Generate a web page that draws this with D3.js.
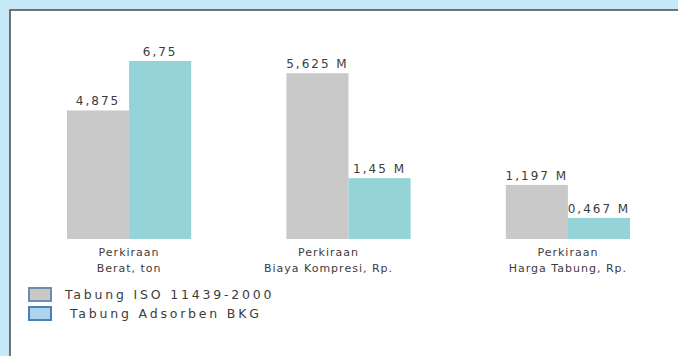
<!DOCTYPE html>
<html lang="id">
  <head>
    <meta charset="UTF-8" />
    <title>Perbandingan Tabung</title>
    <script src="https://d3js.org/d3.v7.min.js"></script>
    <style>
      body {
        margin: 0;
        background: #c6e9f8;
      }
      svg {
        display: block;
        font-family: "DejaVu Sans", sans-serif;
      }
      .value-label {
        font-size: 12px;
        letter-spacing: 2px;
        fill: #3c3c3c;
        text-anchor: middle;
      }
      .cat-label {
        font-size: 11px;
        letter-spacing: 1px;
        fill: #3c3c3c;
        text-anchor: middle;
      }
      .legend-text {
        font-size: 12.5px;
        letter-spacing: 2.8px;
        fill: #3c3c3c;
      }
    </style>
  </head>
  <body>
    <svg width="678" height="356"></svg>
    <script>
      // categories (two-line labels)
      const categories = [
        ["Perkiraan", "Berat, ton"],
        ["Perkiraan", "Biaya Kompresi, Rp."],
        ["Perkiraan", "Harga Tabung, Rp."]
      ];
      const seriesNames = ["Tabung ISO 11439-2000", "Tabung Adsorben BKG"];
      const isoValues = [4.875, 5.625, 1.197];
      const bkgValues = [6.75, 1.45, 0.467];
      const isoLabels = ["4,875", "5,625 M", "1,197 M"];
      const bkgLabels = ["6,75", "1,45 M", "0,467 M"];
      // each category is drawn on its own (hidden) value axis
      const groupDomains = [[0, 6.75], [-0.97, 6.11], [0, 3.94]];

      const colors = ["#c9c9c9", "#94d4d9"];

      const svg = d3.select("svg");

      // white panel with dark edge
      svg.append("rect")
        .attr("x", 10).attr("y", 10)
        .attr("width", 700).attr("height", 400)
        .attr("fill", "#fff")
        .attr("stroke", "#4a4a4a")
        .attr("stroke-width", 1.5);

      const baseY = 239, topY = 61;

      const x0 = d3.scaleBand()
        .domain(d3.range(categories.length))
        .range([67, 630])
        .paddingInner(0.434);

      const x1 = d3.scaleBand()
        .domain([0, 1])
        .range([0, x0.bandwidth()]);

      const yScales = groupDomains.map(dm =>
        d3.scaleLinear().domain(dm).range([baseY, topY]));

      const rows = [];
      categories.forEach((c, i) => {
        rows.push({ g: i, s: 0, v: isoValues[i], label: isoLabels[i] });
        rows.push({ g: i, s: 1, v: bkgValues[i], label: bkgLabels[i] });
      });

      const bars = svg.append("g");
      bars.selectAll("rect")
        .data(rows)
        .join("rect")
        .attr("x", d => x0(d.g) + x1(d.s))
        .attr("width", x1.bandwidth())
        .attr("y", d => yScales[d.g](d.v))
        .attr("height", d => baseY - yScales[d.g](d.v))
        .attr("fill", d => colors[d.s]);

      bars.selectAll("text")
        .data(rows)
        .join("text")
        .attr("class", "value-label")
        .attr("x", d => x0(d.g) + x1(d.s) + x1.bandwidth() / 2)
        .attr("y", d => yScales[d.g](d.v) - 5)
        .text(d => d.label);

      // category labels (middle one sits a bit left in the original)
      const cats = svg.append("g");
      categories.forEach((lines, i) => {
        const cx = x0(i) + x0.bandwidth() / 2 + (i === 1 ? -20 : 0);
        const t = cats.append("text")
          .attr("class", "cat-label")
          .attr("y", 256);
        lines.forEach((ln, k) => {
          t.append("tspan")
            .attr("x", cx)
            .attr("dy", k === 0 ? 0 : 16)
            .text(ln);
        });
      });

      // legend
      const legendFill = ["#c8c9c4", "#acd3ef"];
      const legendStroke = ["#6f8cab", "#4d7fb3"];
      const legend = svg.append("g").attr("transform", "translate(29,288)");
      seriesNames.forEach((name, i) => {
        legend.append("rect")
          .attr("x", 0).attr("y", i * 19)
          .attr("width", 22).attr("height", 13)
          .attr("fill", legendFill[i])
          .attr("stroke", legendStroke[i])
          .attr("stroke-width", 2);
        legend.append("text")
          .attr("class", "legend-text")
          .attr("x", i === 0 ? 36 : 41)
          .attr("y", i * 19 + 11)
          .text(name);
      });
    </script>
  </body>
</html>
